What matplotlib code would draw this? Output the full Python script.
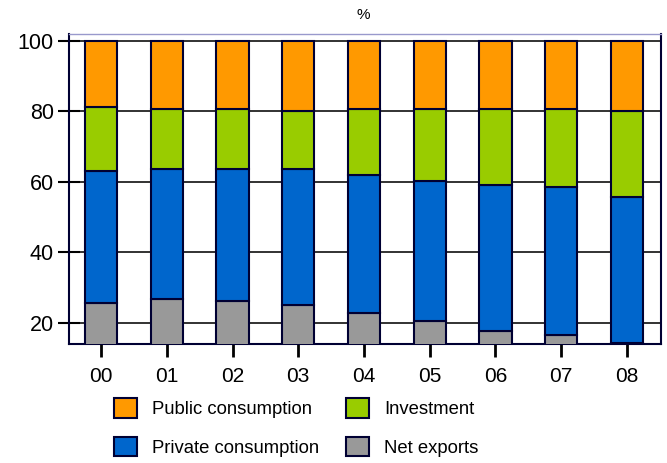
import numpy as np
import matplotlib.pyplot as plt
from matplotlib.patches import Patch

plt.rcParams['font.family'] = ['Liberation Sans', 'DejaVu Sans']

years = ['00', '01', '02', '03', '04', '05', '06', '07', '08']
net_exports = [25.7, 26.7, 26.2, 25.1, 22.7, 20.6, 17.6, 16.5, 14.4]
private_consumption = [37.3, 37.0, 37.5, 38.6, 39.2, 39.7, 41.5, 42.0, 41.3]
investment = [18.3, 16.9, 16.9, 16.4, 18.7, 20.3, 21.5, 22.1, 24.4]
public_consumption = [18.7, 19.4, 19.4, 19.9, 19.4, 19.4, 19.4, 19.4, 19.9]

c_public = '#FF9900'
c_invest = '#99CC00'
c_private = '#0066CC'
c_net = '#999999'
edge = '#000033'

fig = plt.figure(figsize=(6.67, 4.63), dpi=100)
ax = fig.add_axes([0.1034, 0.2563, 0.8876, 0.6697])

ind = np.arange(len(years))
width = 0.49
b1 = np.array(net_exports)
b2 = b1 + np.array(private_consumption)
b3 = b2 + np.array(investment)

ax.bar(ind, net_exports, width, color=c_net, edgecolor=edge, linewidth=1.5, zorder=3)
ax.bar(ind, private_consumption, width, bottom=b1, color=c_private, edgecolor=edge, linewidth=1.5, zorder=3)
ax.bar(ind, investment, width, bottom=b2, color=c_invest, edgecolor=edge, linewidth=1.5, zorder=3)
ax.bar(ind, public_consumption, width, bottom=b3, color=c_public, edgecolor=edge, linewidth=1.5, zorder=3)

ax.set_xlim(-0.49, 8.52)
ax.set_ylim(13.9, 101.8)
ax.set_yticks([20, 40, 60, 80, 100])
ax.set_xticks(ind)
ax.set_xticklabels(years)
ax.yaxis.grid(True, color='#222222', linewidth=1.3, zorder=0)
ax.set_axisbelow(True)

ax.tick_params(axis='y', direction='inout', length=16, width=1.5, colors='black', labelsize=15.5, pad=3)
ax.tick_params(axis='x', direction='out', length=9, width=2, colors='black', labelsize=15, pad=7)
for s in ['left', 'right', 'bottom']:
    ax.spines[s].set_color(edge)
    ax.spines[s].set_linewidth(1.5)
ax.spines['top'].set_color('#9999cc')
ax.spines['top'].set_linewidth(1.0)

fig.text(363 / 667, 1 - 15 / 463, '%', ha='center', va='center', fontsize=11)

handles = [Patch(facecolor=c_public, edgecolor=edge, linewidth=1.5),
           Patch(facecolor=c_private, edgecolor=edge, linewidth=1.5),
           Patch(facecolor=c_invest, edgecolor=edge, linewidth=1.5),
           Patch(facecolor=c_net, edgecolor=edge, linewidth=1.5)]
labels = ['Public consumption', 'Private consumption', 'Investment', 'Net exports']
fig.legend(handles, labels, ncol=2, frameon=False, fontsize=13.3,
           loc='upper left', bbox_to_anchor=(105 / 667, 1 - 389 / 463),
           borderpad=0, handlelength=1.25, handleheight=1.25,
           handletextpad=0.8, columnspacing=1.45, labelspacing=1.0)

fig.savefig('out.png', dpi=100)
